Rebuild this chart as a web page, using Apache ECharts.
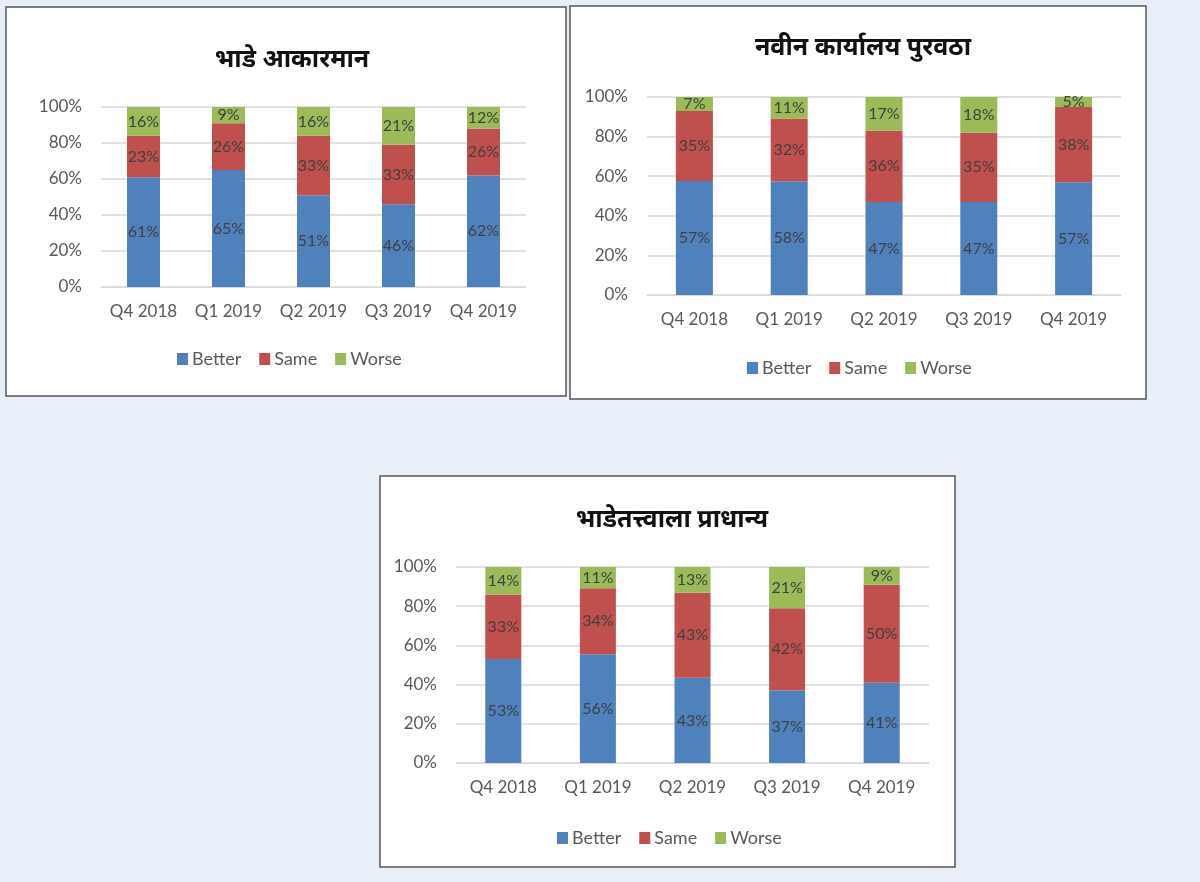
<!DOCTYPE html>
<html>
<head>
<meta charset="utf-8">
<script src="https://cdn.jsdelivr.net/npm/echarts@6/dist/echarts.min.js"></script>
<style>
  html, body { margin: 0; padding: 0; background: #e9eff9; }
  #main { width: 1200px; height: 882px; }
</style>
</head>
<body>
<div id="main"></div>
<script>
// चार्ट डेटा
var quarters = ['Q4 2018', 'Q1 2019', 'Q2 2019', 'Q3 2019', 'Q4 2019'];
var seriesNames = ['Better', 'Same', 'Worse'];
var yTicks = [0, 20, 40, 60, 80, 100];

var title1 = 'भाडे आकारमान';
var better1 = [61, 65, 51, 46, 62];
var same1 = [23, 26, 33, 33, 26];
var worse1 = [16, 9, 16, 21, 12];

var title2 = 'नवीन कार्यालय पुरवठा';
var better2 = [57, 58, 47, 47, 57];
var same2 = [35, 32, 36, 35, 38];
var worse2 = [7, 11, 17, 18, 5];

var title3 = 'भाडेतत्त्वाला प्राधान्य';
var better3 = [53, 56, 43, 37, 41];
var same3 = [33, 34, 43, 42, 50];
var worse3 = [14, 11, 13, 21, 9];

var colors = ['#4f81bd', '#c0504d', '#9bbb59'];
var axisFont = 'Lato, "Open Sans", sans-serif';

// box + grid layout for each panel
var panels = [
  { title: title1, data: [better1, same1, worse1], box: [6, 7, 560, 389],
    grid: { left: 101, top: 107, width: 425, height: 180 }, barWidth: 33,
    titleX: 287, titleY: 42, legendX: 172, legendY: 345 },
  { title: title2, data: [better2, same2, worse2], box: [570, 6, 576, 393],
    grid: { left: 647, top: 97, width: 474, height: 198 }, barWidth: 37,
    titleX: 858, titleY: 30, legendX: 742, legendY: 354 },
  { title: title3, data: [better3, same3, worse3], box: [380, 476, 575, 391],
    grid: { left: 456, top: 567, width: 473, height: 196 }, barWidth: 36,
    titleX: 667, titleY: 502, legendX: 552, legendY: 824 }
];

var option = {
  animation: false,
  backgroundColor: '#e9eff9',
  color: colors,
  title: [],
  legend: [],
  grid: [],
  xAxis: [],
  yAxis: [],
  series: [],
  graphic: []
};

panels.forEach(function (p, i) {
  option.graphic.push({
    type: 'rect', z: -10,
    shape: { x: p.box[0], y: p.box[1], width: p.box[2], height: p.box[3] },
    style: { fill: '#ffffff', stroke: '#555555', lineWidth: 1.5 }
  });
  option.title.push({
    text: p.title,
    left: p.titleX, top: p.titleY, textAlign: 'center',
    textStyle: { fontSize: 25, fontWeight: 'bold', color: '#111', fontFamily: '"Noto Sans", sans-serif' }
  });
  option.legend.push({
    left: p.legendX, top: p.legendY,
    data: seriesNames,
    icon: 'rect', itemWidth: 11, itemHeight: 12, itemGap: 18,
    textStyle: { fontSize: 18, color: '#595959', fontFamily: axisFont, padding: [0, 0, 0, -1] }
  });
  option.grid.push({ left: p.grid.left, top: p.grid.top, width: p.grid.width, height: p.grid.height });
  option.xAxis.push({
    type: 'category', gridIndex: i, data: quarters,
    axisLine: { lineStyle: { color: '#d9d9d9' } },
    axisTick: { show: false },
    axisLabel: { interval: 0, fontSize: 17, color: '#595959', margin: 16, fontFamily: axisFont }
  });
  option.yAxis.push({
    type: 'value', gridIndex: i, min: yTicks[0], max: yTicks[yTicks.length - 1], interval: 20,
    axisLine: { show: false }, axisTick: { show: false },
    splitLine: { lineStyle: { color: '#d9d9d9', width: 1.5 } },
    axisLabel: { fontSize: 17, color: '#595959', margin: 19, fontFamily: axisFont, formatter: '{value}%' }
  });
  // 100% stacked like the source: scale each column to its total, keep raw value in the label
  var totals = quarters.map(function (q, k) {
    return p.data[0][k] + p.data[1][k] + p.data[2][k];
  });
  seriesNames.forEach(function (name, s) {
    option.series.push({
      name: name, type: 'bar', stack: 'st' + i,
      xAxisIndex: i, yAxisIndex: i,
      barWidth: p.barWidth,
      data: p.data[s].map(function (v, k) {
        return { value: v / totals[k] * 100, raw: v };
      }),
      label: {
        show: true, position: 'inside', color: '#404040', fontSize: 16, fontFamily: axisFont,
        formatter: function (prm) { return prm.data.raw + '%'; }
      }
    });
  });
});

var chart = echarts.init(document.getElementById('main'));
chart.setOption(option);
</script>
</body>
</html>
